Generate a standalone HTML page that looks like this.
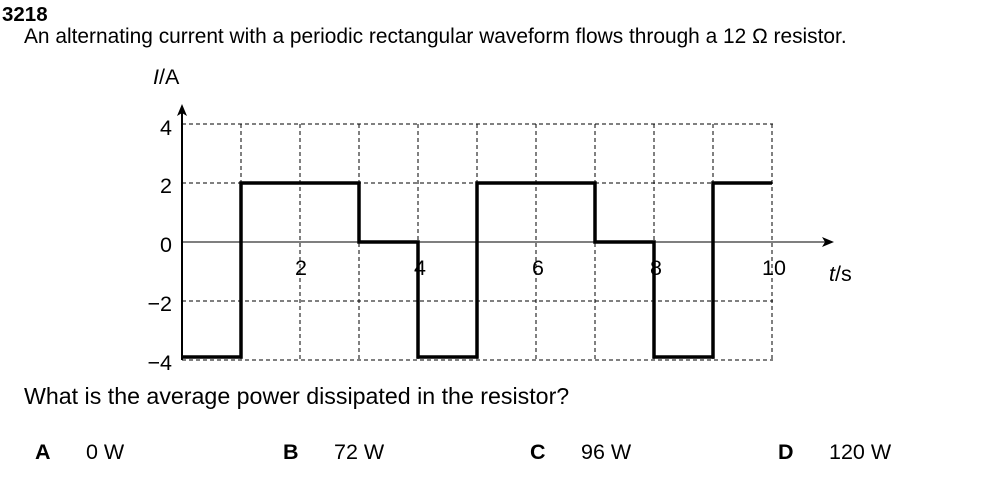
<!DOCTYPE html>
<html><head><style>
body{margin:0;width:1001px;height:494px;background:#fff;font-family:"Liberation Sans",Arial,sans-serif;position:relative;overflow:hidden}
.t{position:absolute;white-space:nowrap;color:#000;line-height:1}
</style></head><body>
<div class="t" style="left:2px;top:5px;font-weight:bold;font-size:20.5px">3218</div>
<div class="t" style="left:24px;top:27px;font-size:20.9px">An alternating current with a periodic rectangular waveform flows through a 12 Ω resistor.</div>
<svg style="position:absolute;left:0;top:0" width="1001" height="494">
<g stroke="#000" stroke-width="1" stroke-dasharray="4,3" fill="none">
<line x1="182" y1="124" x2="773" y2="124"/>
<line x1="182" y1="183" x2="773" y2="183"/>
<line x1="182" y1="301" x2="773" y2="301"/>
<line x1="182" y1="360" x2="773" y2="360"/>
<line x1="241" y1="124" x2="241" y2="360"/>
<line x1="300" y1="124" x2="300" y2="360"/>
<line x1="359" y1="124" x2="359" y2="360"/>
<line x1="418" y1="124" x2="418" y2="360"/>
<line x1="477" y1="124" x2="477" y2="360"/>
<line x1="536" y1="124" x2="536" y2="360"/>
<line x1="595" y1="124" x2="595" y2="360"/>
<line x1="654" y1="124" x2="654" y2="360"/>
<line x1="713" y1="124" x2="713" y2="360"/>
<line x1="772" y1="124" x2="772" y2="360"/>
</g>
<line x1="182" y1="242" x2="826" y2="242" stroke="#555" stroke-width="1.5"/>
<polygon points="834,242 822,237 825,242 822,247" fill="#000"/>
<line x1="182" y1="360" x2="182" y2="112" stroke="#000" stroke-width="2"/>
<polygon points="182,104 177,116 182,113 187,116" fill="#000"/>
<polyline fill="none" stroke="#000" stroke-width="3.5" points="182,357 241,357 241,183 359,183 359,242 418,242 418,357 477,357 477,183 595,183 595,242 654,242 654,357 713,357 713,183 772,183"/>
<g font-family="Liberation Sans,Arial,sans-serif" font-size="21.5" fill="#000">
<text x="172" y="135" text-anchor="end">4</text>
<text x="172" y="193" text-anchor="end">2</text>
<text x="172" y="252" text-anchor="end">0</text>
<text x="172" y="311" text-anchor="end">−2</text>
<text x="172" y="370" text-anchor="end">−4</text>
<text x="301" y="275" text-anchor="middle">2</text>
<text x="420" y="275" text-anchor="middle">4</text>
<text x="538" y="275" text-anchor="middle">6</text>
<text x="656" y="275" text-anchor="middle">8</text>
<text x="774" y="275" text-anchor="middle">10</text>
<text x="829" y="281"><tspan font-style="italic">t</tspan>/s</text>
<text x="153" y="84"><tspan font-style="italic">I</tspan>/A</text>
</g>
</svg>
<div class="t" style="left:24px;top:385px;font-size:23.2px">What is the average power dissipated in the resistor?</div>
<div class="t" style="left:35px;top:442px;font-size:21.5px;font-weight:bold">A</div>
<div class="t" style="left:86px;top:442px;font-size:21.5px">0 W</div>
<div class="t" style="left:283px;top:442px;font-size:21.5px;font-weight:bold">B</div>
<div class="t" style="left:334px;top:442px;font-size:21.5px">72 W</div>
<div class="t" style="left:530px;top:442px;font-size:21.5px;font-weight:bold">C</div>
<div class="t" style="left:581px;top:442px;font-size:21.5px">96 W</div>
<div class="t" style="left:778px;top:442px;font-size:21.5px;font-weight:bold">D</div>
<div class="t" style="left:829px;top:442px;font-size:21.5px">120 W</div>
</body></html>
